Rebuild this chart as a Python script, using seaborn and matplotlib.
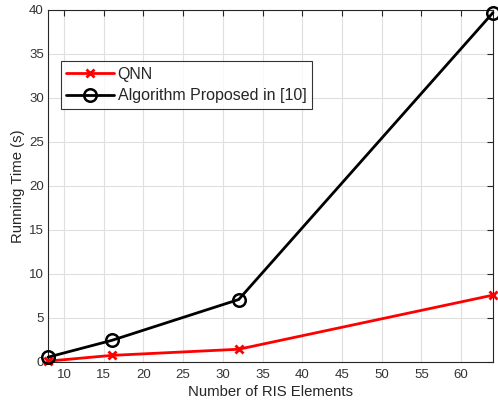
import matplotlib
matplotlib.use("Agg")
import matplotlib.pyplot as plt
import seaborn as sns
import pandas as pd

n_elements = [8, 16, 32, 64]
qnn_time = [0.1, 0.75, 1.45, 7.6]
alg_time = [0.55, 2.45, 7.1, 39.7]
xticks = [10, 15, 20, 25, 30, 35, 40, 45, 50, 55, 60]
yticks = [0, 5, 10, 15, 20, 25, 30, 35, 40]

sns.set_theme(style="whitegrid")
plt.rcParams['font.family'] = ['Liberation Sans', 'DejaVu Sans']

df_q = pd.DataFrame({"N": n_elements, "t": qnn_time})
df_a = pd.DataFrame({"N": n_elements, "t": alg_time})

fig = plt.figure(figsize=(4.98, 4.04), dpi=100)
ax = fig.add_axes([48 / 498, 1 - 362 / 404, 445 / 498, 352 / 404])

sns.lineplot(data=df_q, x="N", y="t", ax=ax, color="#ff0000",
             marker="x", markersize=6, markeredgewidth=2,
             markeredgecolor="#ff0000", linewidth=2, linestyle="-",
             label="QNN", clip_on=False, zorder=3)
sns.lineplot(data=df_a, x="N", y="t", ax=ax, color="black",
             marker="o", markersize=9, markerfacecolor="none",
             markeredgecolor="black", markeredgewidth=1.8, linewidth=2,
             linestyle="-", label="Algorithm Proposed in [10]",
             clip_on=False, zorder=3)

ax.set_xlim(8, 64)
ax.set_ylim(0, 40)
ax.set_xticks(xticks)
ax.set_yticks(yticks)
ax.set_facecolor("white")
ax.grid(True, color="#dfdfdf", linewidth=0.8)
for s in ax.spines.values():
    s.set_visible(True)
    s.set_color("#262626")
    s.set_linewidth(0.8)
ax.tick_params(direction="in", length=4, width=0.8, colors="#262626",
               labelsize=9.5, top=True, right=True, labelcolor="#333333",
               pad=3)
ax.tick_params(axis="x", pad=5)
ax.set_xlabel("Number of RIS Elements", fontsize=10.7, color="#262626", labelpad=3)
ax.set_ylabel("Running Time (s)", fontsize=10.7, color="#262626", labelpad=3)

leg = ax.legend(loc="upper left", bbox_to_anchor=(0.029, 0.855), fontsize=11.5,
                frameon=True, fancybox=False, edgecolor="black",
                handlelength=3.0, handletextpad=0.2, borderpad=0.35,
                labelspacing=0.42, borderaxespad=0)
leg.get_frame().set_linewidth(0.8)

fig.savefig("out.png", dpi=100)
